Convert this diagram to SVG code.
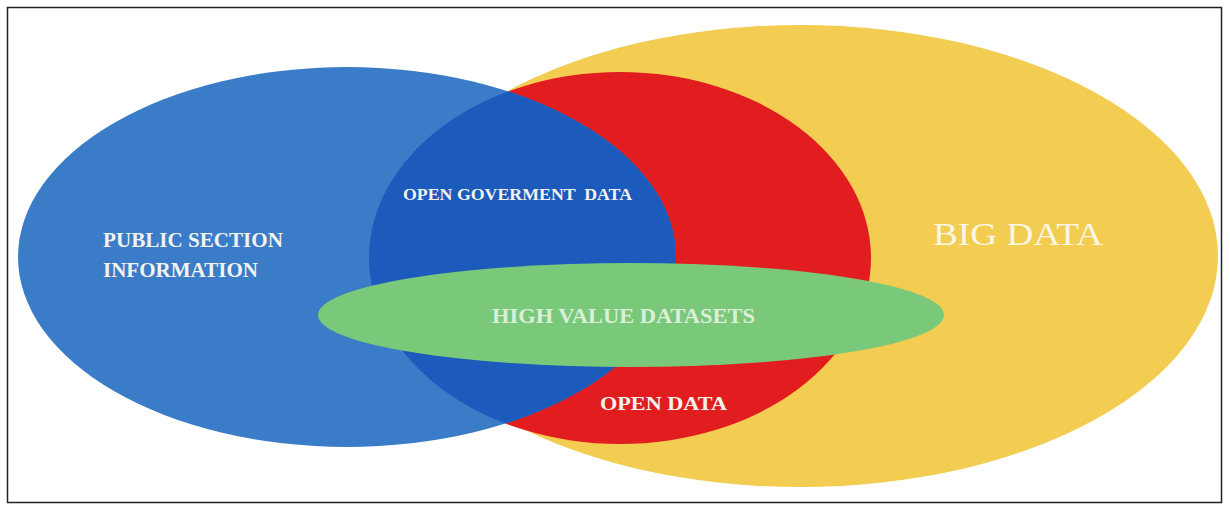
<svg xmlns="http://www.w3.org/2000/svg" width="1230" height="509" viewBox="0 0 1230 509">
<style>
.lbl{font-family:"Liberation Serif","Times New Roman",serif;fill:#f2f2ee;font-weight:bold}
.big{font-family:"Liberation Serif","Times New Roman",serif;fill:#fbf6e6;font-weight:normal}
</style>
<defs>
<clipPath id="redClip"><ellipse cx="620" cy="258" rx="251" ry="186"/></clipPath>
</defs>
<rect x="0" y="0" width="1230" height="509" fill="#ffffff"/>
<rect x="7.5" y="7.5" width="1214" height="495" fill="none" stroke="#222" stroke-width="1.5"/>
<g id="big-data">
<ellipse cx="800" cy="256" rx="418" ry="231" fill="#f3cc52"/>
<text class="big" x="933" y="245" font-size="31" textLength="170" lengthAdjust="spacingAndGlyphs">BIG DATA</text>
</g>
<g id="open-data">
<ellipse cx="620" cy="258" rx="251" ry="186" fill="#e11d1f"/>
<text class="lbl" x="600" y="410" font-size="18" textLength="127" lengthAdjust="spacingAndGlyphs">OPEN DATA</text>
</g>
<g id="public-section-information">
<ellipse cx="347" cy="257" rx="329" ry="190" fill="#3b7cc8"/>
<text class="lbl" x="103" y="247" font-size="21" textLength="180" lengthAdjust="spacingAndGlyphs">PUBLIC SECTION</text>
<text class="lbl" x="103" y="277" font-size="21" textLength="155" lengthAdjust="spacingAndGlyphs">INFORMATION</text>
</g>
<g id="open-government-data">
<ellipse cx="347" cy="257" rx="329" ry="190" fill="#1c5bbb" clip-path="url(#redClip)"/>
<text class="lbl" x="403" y="200" font-size="17" textLength="229" lengthAdjust="spacingAndGlyphs" xml:space="preserve">OPEN GOVERMENT  DATA</text>
</g>
<g id="high-value-datasets">
<ellipse cx="631" cy="315" rx="313" ry="52" fill="#7ac97a"/>
<text class="lbl" x="492" y="323" font-size="20" fill="#dcefd8" style="fill:#dcefd8" textLength="263" lengthAdjust="spacingAndGlyphs">HIGH VALUE DATASETS</text>
</g>
<g id="connectors"/>
</svg>
